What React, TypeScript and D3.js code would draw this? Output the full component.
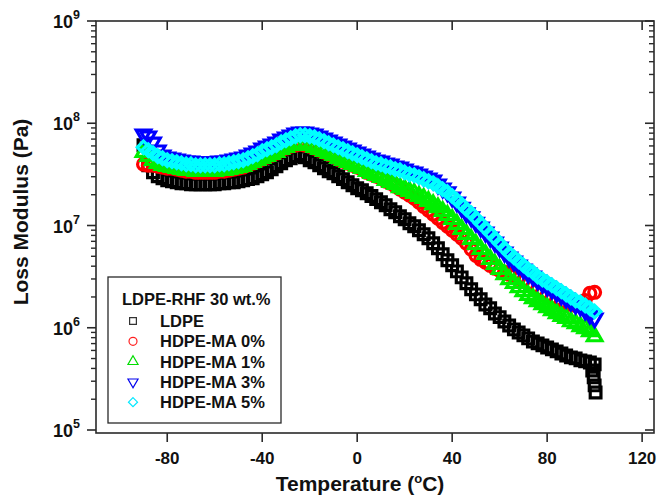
import React from 'react'
import * as d3 from 'd3'

// measurement temperatures (°C)
const temps = [
  -90, -88, -86, -84, -82, -80, -78, -76, -74, -72,
  -70, -68, -66, -64, -62, -60, -58, -56, -54, -52,
  -50, -48, -46, -44, -42, -40, -38, -36, -34, -32,
  -30, -28, -26, -24, -22, -20, -18, -16, -14, -12,
  -10, -8, -6, -4, -2, 0, 2, 4, 6, 8,
  10, 12, 14, 16, 18, 20, 22, 24, 26, 28,
  30, 32, 34, 36, 38, 40, 42, 44, 46, 48,
  50, 52, 54, 56, 58, 60, 62, 64, 66, 68,
  70, 72, 74, 76, 78, 80, 82, 84, 86, 88,
  90, 92, 94, 96, 98, 100,
]

// loss modulus, MPa
const ldpe = [
  60.9, 38.8, 33.1, 30.3, 29.0, 27.7, 27.1, 26.5, 25.9, 25.9,
  25.3, 25.3, 25.3, 25.3, 25.3, 25.3, 25.9, 25.9, 26.5, 26.5,
  27.1, 27.7, 28.4, 29.0, 30.3, 31.7, 33.1, 35.5, 38.0, 40.6,
  43.5, 45.5, 47.6, 49.8, 46.5, 43.5, 41.6, 38.8, 36.3, 33.9,
  32.4, 30.3, 28.4, 26.5, 24.8, 23.1, 22.1, 20.7, 19.4, 18.1,
  16.9, 15.8, 14.4, 13.5, 12.3, 11.5, 10.5, 9.82, 8.98, 8.21,
  7.5, 6.7, 5.98, 5.23, 4.57, 4.08, 3.56, 3.11, 2.72, 2.38,
  2.12, 1.9, 1.69, 1.55, 1.38, 1.27, 1.15, 1.05, 0.964, 0.9,
  0.842, 0.787, 0.735, 0.703, 0.672, 0.642, 0.614, 0.587, 0.561, 0.536,
  0.513, 0.502, 0.48, 0.469, 0.458, 0.438,
]
const ldpeTailT = [99, 99.6, 100, 100.4]
const ldpeTail = [0.382, 0.327, 0.273, 0.233]

const ma0 = [
  39.7, 38.8, 38.8, 38.0, 37.1, 36.3, 36.3, 35.5, 34.7, 33.9,
  33.9, 33.1, 33.1, 33.1, 33.1, 33.1, 33.9, 33.9, 34.7, 35.5,
  36.3, 37.1, 38.8, 40.6, 42.5, 44.5, 46.5, 48.7, 50.9, 54.5,
  57.0, 59.6, 60.9, 62.3, 60.9, 59.6, 57.0, 54.5, 52.1, 49.8,
  47.6, 44.5, 42.5, 40.6, 38.8, 37.1, 35.5, 33.1, 31.7, 30.3,
  29.0, 27.1, 25.9, 24.2, 22.6, 21.2, 19.8, 18.5, 16.9, 15.4,
  14.1, 12.9, 11.8, 10.7, 9.82, 8.98, 8.21, 7.5, 6.7, 5.85,
  5.11, 4.67, 4.37, 4.08, 3.81, 3.64, 3.49, 3.33, 3.18, 3.04,
  2.91, 2.72, 2.54, 2.38, 2.22, 2.08, 1.98, 1.9, 1.81, 1.73,
  1.69, 1.65, 1.65, 1.85, 2.17, 2.22,
]

const ma1 = [
  52.1, 47.6, 43.5, 40.6, 38.8, 38.0, 37.1, 36.3, 35.5, 34.7,
  34.7, 33.9, 33.9, 33.9, 33.9, 33.9, 34.7, 34.7, 35.5, 36.3,
  37.1, 38.0, 39.7, 41.6, 43.5, 45.5, 47.6, 49.8, 52.1, 55.7,
  58.2, 60.9, 62.3, 63.7, 62.3, 60.9, 58.2, 55.7, 53.3, 50.9,
  48.7, 45.5, 43.5, 41.6, 39.7, 38.0, 36.3, 33.9, 32.4, 31.0,
  29.7, 27.7, 26.5, 25.3, 23.6, 22.6, 21.6, 20.7, 19.4, 18.5,
  17.3, 16.1, 15.0, 13.8, 12.6, 11.5, 10.3, 9.18, 8.21, 7.34,
  6.55, 5.85, 5.23, 4.67, 4.18, 3.73, 3.33, 2.97, 2.72, 2.48,
  2.27, 2.08, 1.94, 1.81, 1.69, 1.58, 1.48, 1.38, 1.3, 1.24,
  1.15, 1.1, 1.03, 0.986, 0.92, 0.82,
]

const ma3 = [
  78.1, 74.7, 65.1, 54.5, 48.7, 46.5, 45.5, 44.5, 43.5, 42.5,
  42.5, 41.6, 41.6, 41.6, 41.6, 41.6, 42.5, 42.5, 43.5, 44.5,
  45.5, 46.5, 48.7, 50.9, 53.3, 57.0, 59.6, 62.3, 65.1, 69.8,
  73.0, 76.4, 79.9, 81.7, 81.7, 79.9, 78.1, 74.7, 71.4, 68.1,
  65.1, 62.3, 59.6, 57.0, 54.5, 52.1, 49.8, 47.6, 45.5, 43.5,
  42.5, 40.6, 39.7, 38.0, 37.1, 35.5, 33.9, 33.1, 31.7, 30.3,
  29.0, 27.7, 25.3, 23.1, 21.2, 18.9, 16.9, 15.0, 13.2, 12.1,
  10.7, 9.6, 8.58, 7.67, 6.85, 6.11, 5.47, 4.89, 4.47, 4.08,
  3.73, 3.41, 3.18, 2.91, 2.72, 2.54, 2.38, 2.22, 2.08, 1.94,
  1.81, 1.69, 1.62, 1.48, 1.35, 1.24,
]

const ma5 = [
  58.2, 54.5, 50.9, 47.6, 45.5, 43.5, 42.5, 41.6, 40.6, 39.7,
  39.7, 38.8, 38.8, 38.8, 38.8, 38.8, 39.7, 39.7, 40.6, 41.6,
  42.5, 43.5, 45.5, 47.6, 49.8, 53.3, 55.7, 58.2, 60.9, 65.1,
  68.1, 71.4, 74.7, 76.4, 76.4, 74.7, 73.0, 69.8, 66.7, 63.7,
  60.9, 58.2, 55.7, 53.3, 50.9, 48.7, 46.5, 44.5, 42.5, 40.6,
  39.7, 38.0, 37.1, 35.5, 34.7, 33.1, 31.7, 31.0, 29.7, 28.4,
  27.1, 25.9, 24.2, 22.6, 21.2, 19.4, 17.7, 16.1, 14.4, 13.2,
  11.8, 10.5, 9.39, 8.39, 7.5, 6.7, 5.98, 5.35, 4.89, 4.47,
  4.08, 3.73, 3.49, 3.18, 2.97, 2.78, 2.6, 2.43, 2.27, 2.12,
  1.98, 1.85, 1.77, 1.65, 1.55, 1.44,
]

const xTicks = [-80, -40, 0, 40, 80, 120]
const yExponents = [5, 6, 7, 8, 9]
const legendTitle = 'LDPE-RHF 30 wt.%'

const FONT = '"Liberation Sans", Arial, sans-serif'

const series = [
  { name: 'LDPE', t: temps.concat(ldpeTailT), v: ldpe.concat(ldpeTail), color: '#000000', legendColor: '#333333', type: d3.symbolSquare, size: 115, legendSize: 46, rot: 0 },
  { name: 'HDPE-MA 0%', t: temps, v: ma0, color: '#ff0000', legendColor: '#ff2020', type: d3.symbolCircle, size: 110, legendSize: 50, rot: 0 },
  { name: 'HDPE-MA 1%', t: temps, v: ma1, color: '#00ee00', legendColor: '#00dd00', type: d3.symbolTriangle, size: 92, legendSize: 44, rot: 0 },
  { name: 'HDPE-MA 3%', t: temps, v: ma3, color: '#0000ff', legendColor: '#0000ee', type: d3.symbolTriangle, size: 92, legendSize: 44, rot: 180 },
  { name: 'HDPE-MA 5%', t: temps, v: ma5, color: '#00ffff', legendColor: '#00e8ff', type: d3.symbolDiamond2, size: 100, legendSize: 52, rot: 0 },
]

export default function App() {
  const width = 660
  const height = 496
  const left = 96, right = 654, top = 21, bottom = 433

  const x = d3.scaleLinear().domain([-110, 125]).range([left, right])
  const y = d3.scaleLog().domain([1e5, 1e9]).range([430, top])

  const minor: number[] = []
  yExponents.slice(0, -1).forEach(e => {
    for (let k = 2; k <= 9; k++) minor.push(k * Math.pow(10, e))
  })

  const axisColor = '#2a2a2a'

  return (
    <svg width={width} height={height} style={{ position: 'absolute', left: 0, top: 0, background: '#fff' }} fontFamily={FONT}>
      {/* data: dense open markers */}
      <g>
        {series.map(s => {
          const path = d3.symbol().type(s.type).size(s.size)() as string
          return (
            <g key={s.name} fill="none" stroke={s.color} strokeWidth={3.2} strokeLinejoin="miter">
              {s.t.map((t, i) => (
                <path
                  key={i}
                  d={path}
                  transform={`translate(${x(t)},${y(s.v[i] * 1e6)})${s.rot ? ` rotate(${s.rot})` : ''}`}
                />
              ))}
            </g>
          )
        })}
      </g>

      {/* frame */}
      <rect x={left} y={top} width={right - left} height={bottom - top} fill="none" stroke={axisColor} strokeWidth={1.6} />

      {/* y ticks, left outside, right inside */}
      {yExponents.map(e => (
        <g key={e}>
          <line x1={left - 9} x2={left} y1={y(Math.pow(10, e))} y2={y(Math.pow(10, e))} stroke={axisColor} strokeWidth={1.6} />
          <line x1={right - 9} x2={right} y1={y(Math.pow(10, e))} y2={y(Math.pow(10, e))} stroke={axisColor} strokeWidth={1.6} />
          <text x={80} y={y(Math.pow(10, e)) + 7} textAnchor="end" fontWeight="bold" fontSize={18} fill="#111">
            10<tspan dy={-9} fontSize={12.5}>{e}</tspan>
          </text>
        </g>
      ))}
      {minor.map((m, i) => (
        <g key={'m' + i} stroke={axisColor} strokeWidth={1.4}>
          <line x1={left - 5} x2={left} y1={y(m)} y2={y(m)} />
          <line x1={right - 5} x2={right} y1={y(m)} y2={y(m)} />
        </g>
      ))}

      {/* x ticks, bottom outside, top inside */}
      {xTicks.map(t => (
        <g key={t}>
          <line x1={x(t)} x2={x(t)} y1={bottom} y2={bottom + 9} stroke={axisColor} strokeWidth={1.6} />
          <line x1={x(t)} x2={x(t)} y1={top} y2={top + 9} stroke={axisColor} strokeWidth={1.6} />
          <text x={x(t)} y={464} textAnchor="middle" fontWeight="bold" fontSize={17} fill="#111">{t}</text>
        </g>
      ))}

      {/* axis titles */}
      <text x={360} y={491} textAnchor="middle" fontWeight="bold" fontSize={21} fill="#111">
        Temperature (<tspan dy={-8} fontSize={13}>o</tspan><tspan dy={8}>C)</tspan>
      </text>
      <text transform="translate(28,212) rotate(-90)" textAnchor="middle" fontWeight="bold" fontSize={21} fill="#111">
        Loss Modulus (Pa)
      </text>

      {/* legend */}
      <g>
        <rect x={108} y={277} width={173} height={146} fill="#fff" stroke={axisColor} strokeWidth={1.3} />
        <text x={122} y={305} fontWeight="bold" fontSize={16.5} fill="#111">{legendTitle}</text>
        {series.map((s, i) => {
          const cy = 321 + i * 20.3
          const path = d3.symbol().type(s.type).size(s.legendSize)() as string
          return (
            <g key={s.name}>
              <path d={path} transform={`translate(133,${cy})${s.rot ? ` rotate(${s.rot})` : ''}`} fill="none" stroke={s.legendColor} strokeWidth={1.2} />
              <text x={160} y={cy + 6} fontWeight="bold" fontSize={16.5} fill="#111">{s.name}</text>
            </g>
          )
        })}
      </g>
    </svg>
  )
}
